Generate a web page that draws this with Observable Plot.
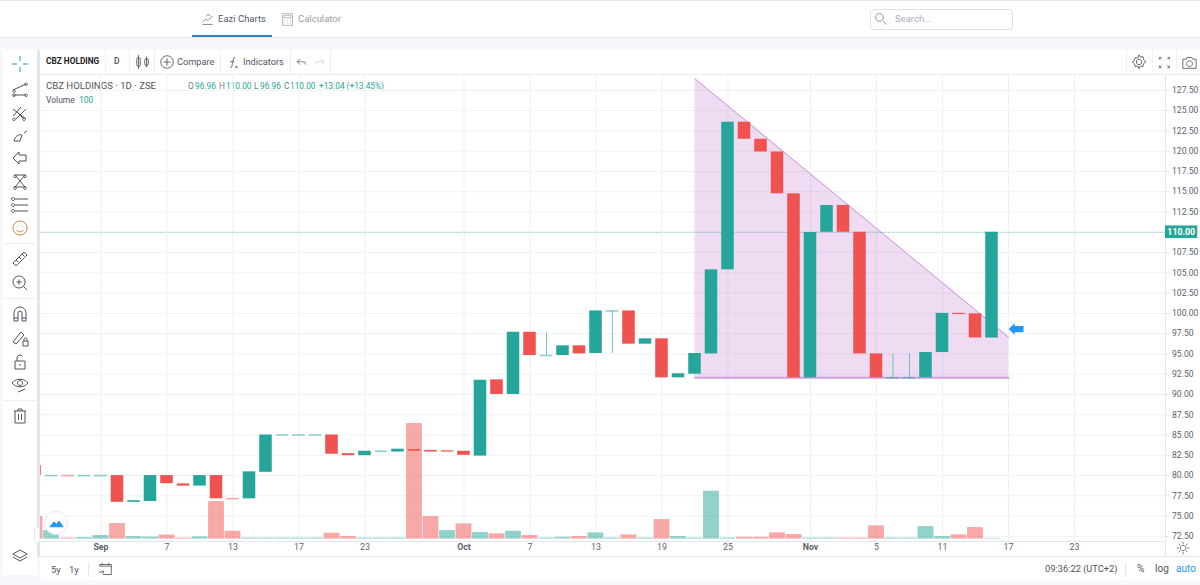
<!DOCTYPE html>
<html><head><meta charset="utf-8">
<script src="https://cdn.jsdelivr.net/npm/d3@7"></script>
<script src="https://cdn.jsdelivr.net/npm/@observablehq/plot@0.6"></script>
<style>
html,body{margin:0;padding:0;width:1200px;height:585px;overflow:hidden;background:#f7f8fb;font-family:Roboto,sans-serif;color:#50535e}
#page{position:absolute;left:0;top:0;width:1200px;height:585px}
.box{position:absolute;background:#fff}
.t{position:absolute;white-space:nowrap;line-height:1}
.ic{position:absolute;fill:none;stroke:#50535e;stroke-width:1}
</style></head><body><div id="page"></div>
<script>
// Bars are numbered from the "Sep" tick (bar 0); one entry per bar from firstBar
const firstBar = -4;
const opens  = [81.24,80,80,80,80, 80,76.7,76.8,80,78.97, 78.7,80,77.15,77.13,80.4, 85,85,85,85,82.7, 82.45,83,82.9,83.2,83.1, 83.05,83,82.4,91.8,90, 97.67,94.8,94.8,96,95.05, 100.3,100.3,96.2,96.86,92.05, 92.5,95,105.37,123.57,121.47, 119.9,114.74,92.05,110,113.3, 110,95,92.05,92.05,92.05, 95.17,100,99.94,96.96];
const closes = [80,80,80,80,80, 76.7,76.9,80,79,78.7, 80,77.13,77.15,80.46,85, 85,85,85,82.63,82.45, 83,83,83.25,83,82.9, 82.9,82.5,91.75,90,97.67, 94.8,94.8,96,95,100.3, 100.3,96.2,96.86,92.05,92.55, 95.05,105.37,123.57,121.47,119.9, 114.74,92.05,109.97,113.3,110, 95,92.05,92.05,92.05,95.17, 100,99.85,96.97,110];
const volumes = [4500,1700,200,300,700, 3100,500,400,800,200, 440,7500,1560,200,200, 200,200,200,1160,500, 200,200,200,23100,4500, 1700,3040,1300,1040,1560, 700,200,360,500,1240, 200,840,200,3900,500, 200,9560,200,360,360, 1240,900,200,200,200, 200,2640,200,200,2500, 500,840,2300,100];
const volumeSides = ["d","u","d","u","u", "d","u","u","d","d", "u","d","d","u","u", "u","u","u","d","d", "u","u","u","d","d", "u","d","u","d","u", "d","u","u","d","u", "u","d","u","d","u", "u","u","u","d","d", "d","d","u","u","d", "d","d","u","u","u", "u","d","d","u"];
const tickIndex = [0,4,8,12,16,22,26,30,34,38,43,47,51,55,59];
const tickLabels = ["Sep","7","13","17","23","Oct","7","13","19","25","Nov","5","11","17","23"];
const monthTicks = ["Sep","Oct","Nov"];
const priceTicks = d3.range(72.5,127.51,2.5);
const wickIndex = [27,31,48,49];
const wickHigh  = [97.67,100.3,95,95];
const wickLow   = [94.8,95.05,92.05,92.05];
const shadeX = [36,55];
const shadeTop = [128.92,97.06];
const shadeBottom = [92.05,92.05];
const lastPrice = 110;
</script>
<script>
const page = document.getElementById("page");
function box(l,t,w,h,bg,extra=""){const d=document.createElement("div");d.className="box";d.style.cssText=`left:${l}px;top:${t}px;width:${w}px;height:${h}px;background:${bg};${extra}`;page.append(d);return d;}
box(0,0,1200,37,"#fff");box(0,0,1200,1,"#e8eaf0");box(0,37,1200,1,"#e9ebf1");
box(192,35,80,2,"#2f7fc1");
box(3,50,34,525,"#fff");box(37,50,3,507,"#e3e6f1");
box(40,50,1160,24,"#fff");box(40,74,1160,1,"#e9ebf3");
box(40,75,1160,482,"#fff");
box(40,557,1160,23,"#fff");box(37,556,1163,1,"#e3e6f1");
box(1165,541,1,15,"#e3e6ef");
box(3,243,34,1,"#eeeff3");box(3,298,34,1,"#eeeff3");box(3,400,34,1,"#eeeff3");
[105,129,154,220,290,330].forEach(x=>box(x,50,1,24,"#eef0f4"));
[1126,1152,1176].forEach(x=>box(x,50,1,24,"#eef0f4"));
box(88,563,1,14,"#e6e8ee");box(1125,563,1,14,"#e6e8ee");
box(870,9,143,21,"#fff","border:1px solid #dfe1e6;border-radius:3px;box-sizing:border-box");
function txt(s,x,y,size,color,weight=400){const d=document.createElement("div");d.className="t";d.textContent=s;d.style.cssText=`left:${x}px;top:${y-size*0.55}px;font-size:${size}px;color:${color};font-weight:${weight}`;page.append(d);return d;}
txt("Eazi Charts",218,19,9.5,"#555a66");txt("Calculator",298,19,9.5,"#9a9ea8");txt("Search...",895,19,9.5,"#a9adb6");
txt("CBZ HOLDING",46,62,8.3,"#222",700);
txt("D",114,62,8.5,"#50535e",500);txt("Compare",177,62,9.2,"#50535e");txt("Indicators",243,62,9.2,"#50535e");
txt("CBZ HOLDINGS · 1D · ZSE",46,86,9.6,"#50535e");
const green="#26a69a";
[["O",188,"#787b86"],["96.96",195,green],["H",219,"#787b86"],["110.00",226,green],["L",254,"#787b86"],["96.96",260,green],["C",284,"#787b86"],["110.00",290,green],["+13.04 (+13.45%)",319,green]].forEach(([s,x,c])=>txt(s,x,86.5,8.3,c));
txt("Volume",46,101,8.5,"#50535e");txt("100",79,101,8.5,green);
txt("5y",51,570,9.5,"#50535e");txt("1y",69,570,9.5,"#50535e");
txt("09:36:22 (UTC+2)",1045,569,9.3,"#50535e");txt("%",1137,569,10,"#50535e");txt("log",1155,569,10,"#50535e");txt("auto",1176,569,10,"#2196f3");
function icon(x,y,d,opt={}){const s=document.createElementNS("http://www.w3.org/2000/svg","svg");s.setAttribute("class","ic");s.setAttribute("viewBox","0 0 18 18");const z=opt.size||18;s.setAttribute("width",z);s.setAttribute("height",z);s.style.left=(x-z/2)+"px";s.style.top=(y-z/2)+"px";if(opt.stroke)s.style.stroke=opt.stroke;const p=document.createElementNS("http://www.w3.org/2000/svg","path");p.setAttribute("d",d);if(opt.fill)p.setAttribute("fill",opt.fill);s.append(p);page.append(s);}
icon(20,64,"M9 1v5M9 12v5M1 9h5M12 9h5",{stroke:"#2196f3"});
icon(20,89,"M2 10L15 4M2 15H15M3 10a1.3 1.3 0 1 0 .1 0M15 3a1.3 1.3 0 1 0 .1 0M3 14a1.3 1.3 0 1 0 .1 0M15 14a1.3 1.3 0 1 0 .1 0");
icon(20,113,"M2 12L10 3M5 15L15 5M2 5L15 15M6 8l6 6M3 14a1.3 1.3 0 1 0 .1 0M13 14a1.3 1.3 0 1 0 .1 0");
icon(20,136,"M3 14c1-5 5-7 8-6l-2 6zM13 6l3-2");
icon(20,158,"M2 9l6-6v3h7v6H8v3z");
icon(20,181,"M4 3L14 15M14 3L4 15M4 3L14 3M3 15h12M4 3a1.3 1.3 0 1 0 .1 0M14 3a1.3 1.3 0 1 0 .1 0M4 15a1.3 1.3 0 1 0 .1 0M14 15a1.3 1.3 0 1 0 .1 0");
icon(20,205,"M4 3h13M4 9h13M4 15h13M2 1.5a1.5 1.5 0 1 0 .1 0M2 7.5a1.5 1.5 0 1 0 .1 0M2 13.5a1.5 1.5 0 1 0 .1 0");
icon(20,228,"M9 2a7 7 0 1 0 .1 0M6 7h.5M11.5 7h.5M5.5 11c2 2.5 5 2.5 7 0",{stroke:"#c98a3a"});
icon(20,259,"M2 13L13 2l3 3L5 16zM5 10l2 2M8 7l2 2M11 4l2 2");
icon(20,283,"M8 2a6 6 0 1 0 .1 0M12.5 12.5L16 16M8 5.5v5M5.5 8h5");
icon(20,314,"M3 16V8a6 6 0 0 1 12 0v8h-4V8a2 2 0 0 0-4 0v8zM3 13h4M11 13h4");
icon(20,338,"M2 13L10 3l3 3-8 9zM12 12h5v5h-5zM13 12v-1.500a1.500 1.500 0 0 1 3 0V12");
icon(20,362,"M4 8h10v8H4zM6 8V5a3 3 0 0 1 5.500-1.500M9 11v2");
icon(20,385,"M1 7c4-5 12-5 16 0-4 5-12 5-16 0zM9 4.500a2.500 2.500 0 1 0 .1 0M7 16l7-3");
icon(20,416,"M3 4h12M7 4V2h4v2M4 4v12h10V4M7.500 7v6M10.500 7v6");
icon(20,556,"M9 3l7 4-7 4-7-4zM2 10l7 4 7-4");
icon(208,19,"M2 13l4-4 3 2 6-6M2 16h13M6 6l3-3 3 2",{stroke:"#6b6f7a",size:14});
icon(287,19,"M3 2h12v14H3zM5 4h8v3H5zM5 10h1M8.500 10h1M12 10h1M5 13h1M8.500 13h1M12 13h1",{stroke:"#a5a8b0",size:15});
icon(881,19,"M7 2a5 5 0 1 0 .1 0M11 11l5 5",{stroke:"#777",size:14});
icon(143,62,"M4 1v16M4 4a2 2 0 0 1 2 2v6a2 2 0 0 1-4 0V6a2 2 0 0 1 2-2M13 3v12M13 5a2 2 0 0 1 2 2v4a2 2 0 0 1-4 0V7a2 2 0 0 1 2-2",{size:16});
icon(167,62,"M9 2a7 7 0 1 0 .1 0M9 5v8M5 9h8",{size:16});
icon(233,62,"M11 3c-3 0-2 3-3 6s0 6-3 6M5 8h5M11 13l3 3M14 13l-3 3",{size:15});
icon(301,62,"M7 4L3 8l4 4M3 8h8a4 4 0 0 1 4 4",{size:13});
icon(319,62,"M11 4l4 4-4 4M15 8H7a4 4 0 0 0-4 4",{size:13,stroke:"#c8cad0"});
icon(1139,62,"M9 6a3 3 0 1 0 .1 0M9 1l1.500 2.500 3-.5 .5 3L16.500 9 14 11l-.5 3-3-.5L9 16.500 7.500 13.500l-3 .5-.5-3L1.500 9 4 7l.5-3 3 .5z",{size:16});
icon(1164,62,"M2 2h3M2 2v3M2 2l3 3M16 2h-3M16 2v3M16 2l-3 3M2 16h3M2 16v-3M2 16l3-3M16 16h-3M16 16v-3M16 16l-3-3",{size:13});
icon(1189,62,"M1 5h4l1-2h6l1 2h4v11H1zM9 7a3.500 3.500 0 1 0 .1 0",{size:15});
icon(1183,548,"M9 5.500a3.500 3.500 0 1 0 .1 0M9 1v3M9 14v3M1 9h3M14 9h3M3.500 3.500l2 2M12.500 12.500l2 2M3.500 14.500l2-2M12.500 5.500l2-2",{size:14});
icon(105,569,"M2 5h14v10H6M2 5V3h14v2M5 1v3M13 1v3M1 12h6M5 10l2 2-2 2",{size:15});

// ---------------- chart -------------------
const volumePerPrice = 1622, volumeFloor = 72.17;
const teal="#26a69a", red="#ef5350";
const bars = opens.map((o,k)=>({i:firstBar+k,o,c:closes[k],v:volumes[k],side:volumeSides[k]}));
const bodies = bars.filter(b=>b.o!==b.c);
const dashes = bars.filter(b=>b.o===b.c);
const wicks = wickIndex.map((i,k)=>({i,h:wickHigh[k],l:wickLow[k]}));
const shade = shadeX.map((x,k)=>({x,t:shadeTop[k],b:shadeBottom[k]}));
const arrow = {draw(c,size){const r=Math.sqrt(size);c.moveTo(-r,0);c.lineTo(-r*0.2,-r*0.78);c.lineTo(-r*0.2,-r*0.42);c.lineTo(r,-r*0.42);c.lineTo(r,r*0.42);c.lineTo(-r*0.2,r*0.42);c.lineTo(-r*0.2,r*0.78);c.closePath();}};
const labelAt = i => tickLabels[tickIndex.indexOf(i)];
const chart = Plot.plot({
  width:1200,height:585,marginLeft:40,marginRight:35,marginTop:75,marginBottom:44,
  style:{background:"none",position:"absolute",left:0,top:0,fontFamily:"Roboto,sans-serif",color:"#50535e"},
  x:{type:"linear",domain:[-3.666,64.515]},
  y:{type:"linear",domain:[71.87,129.33]},
  marks:[
    Plot.gridX(tickIndex,{stroke:"#eef0f5",strokeOpacity:1}),
    Plot.gridY(priceTicks,{stroke:"#f0f2f6",strokeOpacity:1}),
    Plot.areaY(shade,{x:"x",y1:"b",y2:"t",fill:"#9c27b0",fillOpacity:0.16}),
    Plot.line(shade,{x:"x",y:"t",stroke:"#c58fd8",strokeWidth:1}),
    Plot.line(shade,{x:"x",y:"b",stroke:"#cfa0de",strokeWidth:2}),
    Plot.rect(bars,{x1:d=>d.i-0.48,x2:d=>d.i+0.48,y1:volumeFloor,y2:d=>volumeFloor+d.v/volumePerPrice,fill:d=>d.side==="u"?teal:red,fillOpacity:0.5,clip:true}),
    Plot.ruleY([lastPrice],{stroke:teal,strokeOpacity:0.55,strokeDasharray:"1 1"}),
    Plot.ruleX(wicks,{x:"i",y1:"l",y2:"h",stroke:teal,strokeOpacity:0.6,strokeWidth:1}),
    Plot.ruleY(dashes,{x1:d=>d.i-0.38,x2:d=>d.i+0.38,y:"o",stroke:d=>d.side==="u"?teal:red,strokeOpacity:0.5,strokeWidth:1.6,clip:true}),
    Plot.rect(bodies,{x1:d=>d.i-0.38,x2:d=>d.i+0.38,y1:"o",y2:"c",fill:d=>d.c>d.o?teal:red,clip:true}),
    Plot.dot([{x:55.46,y:98.07}],{x:"x",y:"y",r:4.2,symbol:arrow,fill:"#2196f3",stroke:null}),
    Plot.ruleX([64.515],{stroke:"#e3e6ef"}),
    Plot.ruleY([71.87],{stroke:"#e3e6ef"}),
    Plot.axisY(priceTicks.filter(p=>p!==lastPrice),{anchor:"right",tickFormat:d3.format(".2f"),tickSize:3,tickPadding:3.5,stroke:"#dfe1e7",fontSize:8.6,fill:"#5c5f6a",label:null}),
    Plot.axisX(tickIndex.filter(i=>!monthTicks.includes(labelAt(i))),{anchor:"bottom",tickFormat:labelAt,tickSize:0,tickPadding:2,fontSize:8.8,fill:"#5c5f6a",label:null}),
    Plot.axisX(tickIndex.filter(i=>monthTicks.includes(labelAt(i))),{anchor:"bottom",tickFormat:labelAt,tickSize:0,tickPadding:2,fontSize:8.8,fontWeight:700,fill:"#5c5f6a",label:null}),
    Plot.rect([{}],{x1:64.515,x2:66.47,y1:109.22,y2:110.78,fill:teal}),
    Plot.text([lastPrice],{x:65.47,y:d=>d,text:d=>d3.format(".2f")(d),fill:"#fff",fontSize:8.8,fontWeight:700})
  ]
});
page.append(chart);
box(44,511,24,24,"#fff","border:1px solid #e6e8ee;border-radius:50%;box-sizing:border-box");
icon(56,523,"M1 13L6 7l3 3 3-4 5 7z",{fill:"#2196f3",stroke:"#2196f3",size:15});
box(34,527,6,16,"#fff","border:1px solid #e6e8ee;border-radius:3px;box-sizing:border-box");
</script>
</body></html>
